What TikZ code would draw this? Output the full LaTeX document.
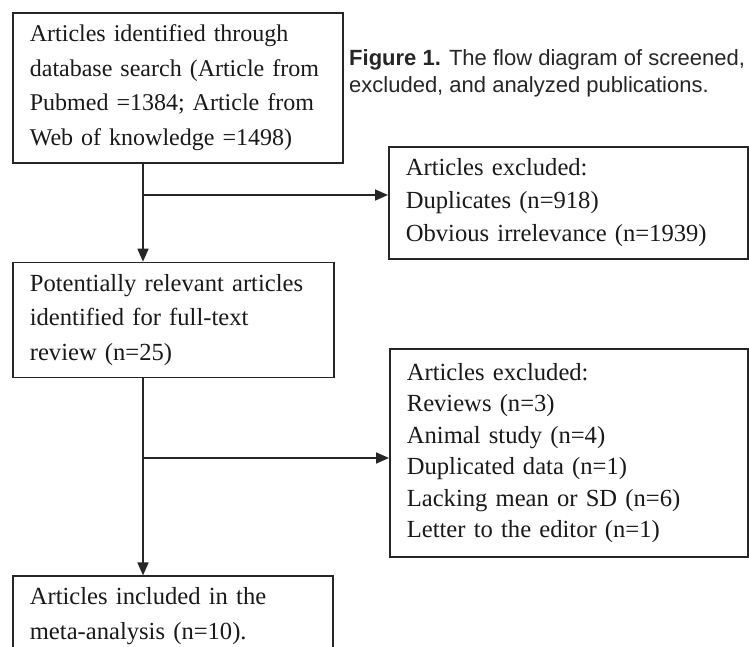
\documentclass[tikz,border=0pt]{standalone}
\usepackage{fontspec}
\setmainfont{Liberation Serif}
\newfontfamily\capfont{Liberation Sans}
\usetikzlibrary{arrows.meta,positioning}

\begin{document}
\begin{tikzpicture}[
  x=1pt, y=-1pt,
  box/.style={draw=black!85, line width=1.7pt, anchor=north west, align=left,
    inner xsep=17pt, inner ysep=0pt, text=black!90,
    font=\fontsize{24.6}{34.5}\selectfont},
  arr/.style={-{Triangle[length=13pt,width=11pt]}, line width=1.7pt, draw=black!85}
]
\clip (0,0) rectangle (749,647);
\fill[white] (0,0) rectangle (749,647);
\node[box, minimum width=330pt, minimum height=150pt, text width=296pt,
  font=\fontsize{24}{34.5}\selectfont] (search) at (12,12)
  {Articles identified through\\database search (Article from\\Pubmed =1384; Article from\\Web of knowledge =1498)};
\node[box, below=98pt of search.south west, anchor=north west,
  minimum width=321pt, minimum height=115pt, text width=287pt] (fulltext)
  {Potentially relevant articles\\identified for full-text\\review (n=25)};
\node[box, below=197pt of fulltext.south west, anchor=north west,
  minimum width=320pt, minimum height=79pt, text width=286pt,
  font=\fontsize{24.6}{35}\selectfont] (incl)
  {Articles included in the\\meta-analysis (n=10).};
\node[box, minimum width=359pt, minimum height=112pt, text width=325pt,
  font=\fontsize{24.6}{33}\selectfont] (dupl) at (388,146)
  {Articles excluded:\\Duplicates (n=918)\\Obvious irrelevance (n=1939)};
\node[box, minimum width=358pt, minimum height=208pt, text width=324pt,
  font=\fontsize{24.6}{31.5}\selectfont] (excl) at (389,348)
  {Articles excluded:\\Reviews (n=3)\\Animal study (n=4)\\Duplicated data (n=1)\\Lacking mean or SD (n=6)\\Letter to the editor (n=1)};
\node[anchor=north west, inner sep=0pt, align=left, text=black!85,
  font=\capfont\fontsize{22}{27}\selectfont] (caption) at (349,49)
  {\textbf{Figure 1.} The flow diagram of screened,\\excluded, and analyzed publications.};
\coordinate (split1) at (143,195);
\coordinate (split2) at (143,458);
\draw[arr] (search.south -| split1) -- (fulltext.north -| split1);
\draw[arr] (split1) -- (split1 -| dupl.west);
\draw[arr] (fulltext.south -| split2) -- (incl.north -| split2);
\draw[arr] (split2) -- (split2 -| excl.west);
\end{tikzpicture}
\end{document}
